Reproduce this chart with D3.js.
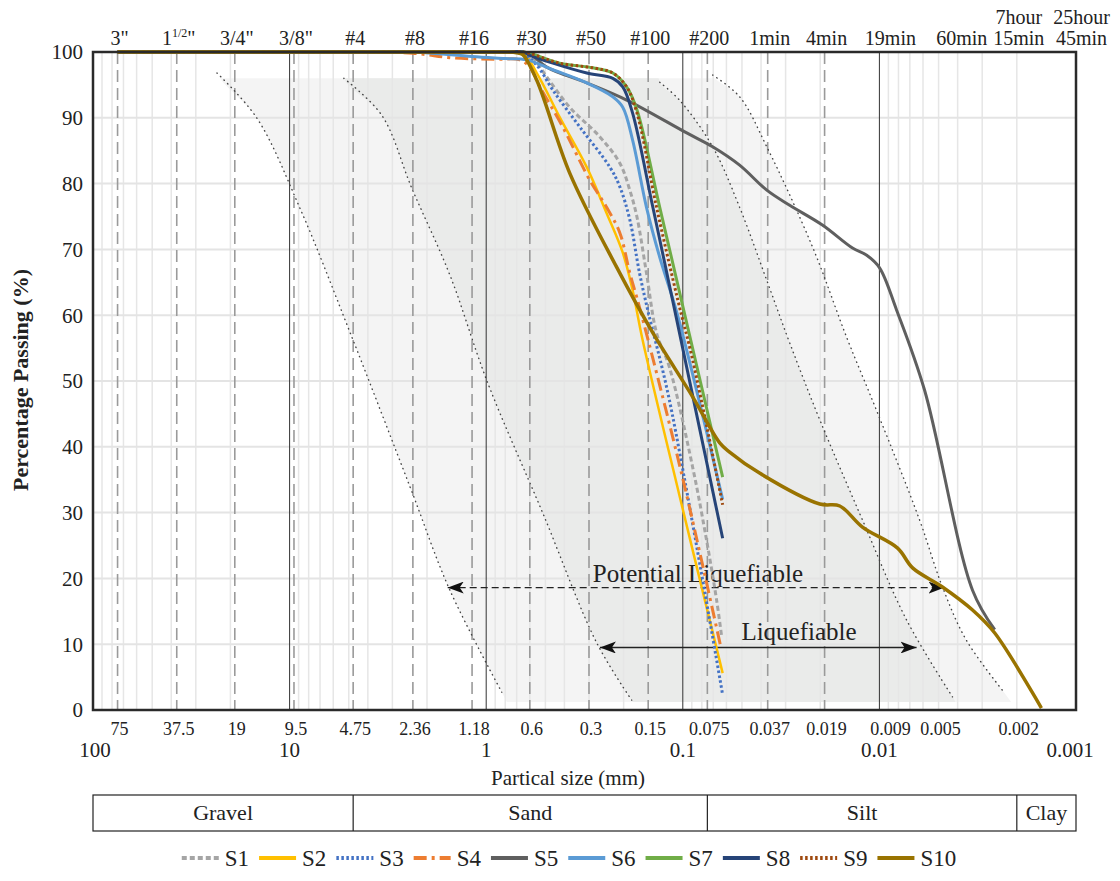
<!DOCTYPE html>
<html>
<head>
<meta charset="utf-8">
<script src="https://cdn.jsdelivr.net/npm/d3@7"></script>
<style>
  body { margin: 0; background: #fff; }
  svg { font-family: "Liberation Serif", "Times New Roman", serif; }
</style>
</head>
<body>
<svg id="chart" width="1120" height="881"></svg>
<script>
// ---- data ----
const sieveSizes = [75, 37.5, 19, 9.5, 4.75, 2.36, 1.18, 0.6, 0.3, 0.15, 0.075, 0.037, 0.019];
const sizeLabels = ["75", "37.5", "19", "9.5", "4.75", "2.36", "1.18", "0.6", "0.3", "0.15", "0.075", "0.037", "0.019", "0.009", "0.005", "0.002"];
const sizeLabelValues = [75, 37.5, 19, 9.5, 4.75, 2.36, 1.18, 0.6, 0.3, 0.15, 0.075, 0.037, 0.019, 0.009, 0.005, 0.002];
const decadeValues = [100, 10, 1, 0.1, 0.01, 0.001];
const decadeLabels = ["100", "10", "1", "0.1", "0.01", "0.001"];
const topLabels = ['3"', '1 1/2"', '3/4"', '3/8"', "#4", "#8", "#16", "#30", "#50", "#100", "#200",
  "1min", "4min", "19min", "60min", "7hour\n15min", "25hour\n45min"];
const topLabelSizes = [75, 37.5, 19, 9.5, 4.75, 2.36, 1.18, 0.6, 0.3, 0.15, 0.075,
  0.037, 0.019, 0.009, 0.0039, 0.002, 0.00096];
const yTicks = [0, 10, 20, 30, 40, 50, 60, 70, 80, 90, 100];

const classNames = ["Gravel", "Sand", "Silt", "Clay"];
const classBounds = [100, 4.75, 0.075, 0.002, 0.001];

// boundary curves of the liquefiable zones [size mm, % passing]
const outerLeft = [[23.4, 96.8], [14.7, 90.0], [8.87, 76.3], [4.93, 57.4], [2.44, 33.9], [1.53, 18.2], [0.833, 2.7]];
const innerLeft = [[5.30, 96.0], [3.40, 90.4], [2.39, 79.3], [1.53, 66.1], [0.982, 49.7], [0.515, 29.9], [0.274, 10.2], [0.182, 1.5]];
const innerRight = [[0.131, 95.4], [0.104, 92.7], [0.0705, 85.6], [0.0514, 76.4], [0.0374, 65.3], [0.0286, 55.8],
  [0.0201, 44.1], [0.0122, 28.9], [0.00728, 13.7], [0.00425, 2.0]];
const outerRight = [[0.0705, 96.5], [0.0514, 93.2], [0.0374, 85.6], [0.0219, 70.4], [0.0147, 56.7], [0.0102, 45.1],
  [0.00625, 28.9], [0.00478, 18.7], [0.00361, 10.6], [0.00231, 2.6]];
const zoneTop = 96, zoneBottom = 1.2;

const potentialRange = [1.57, 0.00466], potentialLevel = 18.6;
const liquefiableRange = [0.264, 0.00647], liquefiableLevel = 9.5;

// gradation curves [size mm, % passing]
const S1 = [[75, 100], [19, 100], [4.75, 100], [1.18, 100], [0.8, 100], [0.65, 99.8], [0.579, 99.1], [0.492, 96.2], [0.376, 91.6],
  [0.264, 87.1], [0.209, 83.1], [0.186, 79.0], [0.171, 74.9], [0.153, 66.4], [0.136, 57.3], [0.117, 52.1], [0.0891, 36.9],
  [0.0757, 25.8], [0.0673, 16.7], [0.0634, 11.1]];
const S2 = [[75, 100], [19, 100], [4.75, 100], [1.18, 100], [0.8, 100], [0.65, 99.8], [0.553, 96.8], [0.423, 90.1], [0.308, 82.5],
  [0.244, 75.5], [0.202, 69.5], [0.180, 63.8], [0.160, 56.2], [0.104, 32.6], [0.0627, 5.6]];
const S3 = [[75, 100], [19, 100], [4.75, 100], [1.18, 100], [0.8, 100], [0.65, 99.7], [0.553, 98.0], [0.458, 94.2], [0.334, 88.6],
  [0.235, 82.5], [0.209, 79.5], [0.186, 74.5], [0.166, 66.4], [0.150, 60.5], [0.117, 47.1], [0.0627, 2.3]];
const S4 = [[75, 100], [19, 100], [4.75, 100], [2.36, 99.8], [1.48, 99.1], [0.9, 98.9], [0.675, 98.8], [0.6, 97.7], [0.533, 94.7],
  [0.408, 88.6], [0.297, 80.5], [0.244, 76.4], [0.209, 72.5], [0.186, 66.4], [0.166, 61.2], [0.101, 35.7], [0.0641, 9.6]];
const S5 = [[75, 100], [19, 100], [4.75, 100], [1.18, 100], [0.8, 100], [0.65, 100], [0.6, 99.8], [0.492, 97.7], [0.308, 95.3],
  [0.193, 92.7], [0.0955, 87.7], [0.0705, 85.6], [0.0514, 82.8], [0.0374, 79.0], [0.0286, 76.7], [0.0195, 73.7], [0.0137, 70.2],
  [0.0116, 69.1], [0.00998, 67.2], [0.00818, 60.8], [0.00589, 48.6], [0.00336, 18.2], [0.00259, 12.2]];
const S6 = [[75, 100], [19, 100], [4.75, 100], [2.36, 100], [1.18, 99.3], [0.8, 99.0], [0.622, 98.8], [0.458, 97.3], [0.308, 95.3],
  [0.227, 93.2], [0.202, 91.6], [0.180, 86.6], [0.153, 76.4], [0.131, 68.8], [0.107, 60.3], [0.0627, 32.0]];
const S7 = [[75, 100], [19, 100], [4.75, 100], [1.18, 100], [0.8, 100], [0.65, 100], [0.6, 99.8], [0.423, 98.3], [0.287, 97.6],
  [0.227, 96.8], [0.193, 94.7], [0.171, 91.2], [0.131, 76.4], [0.0955, 58.8], [0.0627, 35.4]];
const S8 = [[75, 100], [19, 100], [4.75, 100], [1.18, 100], [0.8, 100], [0.65, 100], [0.6, 99.5], [0.458, 98.3], [0.308, 96.8],
  [0.227, 96.0], [0.202, 94.7], [0.180, 90.7], [0.142, 76.4], [0.112, 61.9], [0.0627, 26.1]];
const S9 = [[75, 100], [19, 100], [4.75, 100], [1.18, 100], [0.8, 100], [0.65, 100], [0.6, 99.8], [0.423, 98.3], [0.287, 97.6],
  [0.227, 96.8], [0.193, 94.7], [0.171, 90.7], [0.136, 76.4], [0.106, 62.3], [0.0891, 53.2], [0.0627, 31.2]];
const S10 = [[75, 100], [19, 100], [4.75, 100], [1.18, 100], [0.8, 100], [0.7, 99.9], [0.652, 99.6], [0.553, 95.7], [0.376, 81.6],
  [0.217, 67.3], [0.142, 57.3], [0.0891, 47.6], [0.0649, 40.6], [0.0578, 39.2], [0.0407, 36.0], [0.0201, 31.3], [0.0159, 31.0],
  [0.0122, 27.8], [0.00808, 24.6], [0.00678, 21.6], [0.00478, 18.7], [0.00336, 15.2], [0.00259, 11.7], [0.0015, 0.3]];

const seriesNames = ["S1", "S2", "S3", "S4", "S5", "S6", "S7", "S8", "S9", "S10"];
const seriesData = [S1, S2, S3, S4, S5, S6, S7, S8, S9, S10];
const seriesColors = ["#a5a5a5", "#ffc000", "#4472c4", "#ed7d31", "#5f5f5f", "#5b9bd5", "#70ad47", "#264478", "#9e480e", "#997300"];
const seriesDash = ["5,3", null, "2.5,2.5", "13,5,3,5", null, null, null, null, "2.5,2.5", null];
const seriesWidth = [3, 2.5, 3, 3, 3, 3, 3, 3, 3, 3.5];

// ---- layout ----
const svg = d3.select("#chart");
const plotL = 93, plotR = 1076, plotT = 52, plotB = 710;

const x = d3.scaleLog().domain([100, 0.001]).range([plotL, plotR]);
const y = d3.scaleLinear().domain([0, 100]).range([plotB, plotT]);

// ---- zone fills ----
svg.append("clipPath").attr("id", "zoneClip")
  .append("rect")
  .attr("x", plotL).attr("width", plotR - plotL)
  .attr("y", y(zoneTop)).attr("height", y(zoneBottom) - y(zoneTop));

function extendTo(pts, level) {
  // carry the last segment on down to the bottom of the zone
  const a = pts[pts.length - 2], b = pts[pts.length - 1];
  const ax = x(a[0]), ay = y(a[1]), bx = x(b[0]), by = y(b[1]);
  const ty = y(level);
  const tx = bx + (bx - ax) * (ty - by) / (by - ay);
  return [tx, ty];
}

function zonePath(l, r) {
  const lp = l.map(d => [x(d[0]), y(d[1])]);
  const rp = r.map(d => [x(d[0]), y(d[1])]);
  lp.unshift([lp[0][0], y(100)]);
  lp.push(extendTo(l, zoneBottom - 1));
  rp.unshift([rp[0][0], y(100)]);
  rp.push(extendTo(r, zoneBottom - 1));
  const pl = d3.line().curve(d3.curveCatmullRom);
  const a = pl(lp);
  const b = pl(rp.slice().reverse());
  return a + "L" + b.slice(1) + "Z";
}

const zones = svg.append("g").attr("clip-path", "url(#zoneClip)");
zones.append("path").attr("d", zonePath(outerLeft, outerRight)).attr("fill", "#f4f4f4");
zones.append("path").attr("d", zonePath(innerLeft, innerRight)).attr("fill", "#eaebea");

// ---- grid ----
const minor = [];
for (let e = -3; e < 2; e++) {
  for (let m = 2; m <= 9; m++) minor.push(m * Math.pow(10, e));
}
svg.append("g").selectAll("line").data(minor).join("line")
  .attr("x1", d => x(d)).attr("x2", d => x(d))
  .attr("y1", plotT).attr("y2", plotB)
  .attr("stroke", "#e6e6e6").attr("stroke-width", 1.5);

svg.append("g").selectAll("line").data(yTicks.slice(1, -1)).join("line")
  .attr("x1", plotL).attr("x2", plotR)
  .attr("y1", d => y(d)).attr("y2", d => y(d))
  .attr("stroke", "#e4e4e4").attr("stroke-width", 2);

svg.append("g").selectAll("line").data(decadeValues.slice(1, -1)).join("line")
  .attr("x1", d => x(d)).attr("x2", d => x(d))
  .attr("y1", plotT).attr("y2", plotB)
  .attr("stroke", "#333").attr("stroke-width", 1);

svg.append("g").selectAll("line").data(sieveSizes).join("line")
  .attr("x1", d => x(d)).attr("x2", d => x(d))
  .attr("y1", plotT).attr("y2", plotB)
  .attr("stroke", "#9a9a9a").attr("stroke-width", 1.6)
  .attr("stroke-dasharray", "12,6");

// ---- zone boundary dotted lines ----
const dotted = d3.line().x(d => x(d[0])).y(d => y(d[1])).curve(d3.curveCatmullRom);
svg.append("g").selectAll("path").data([outerLeft, innerLeft, innerRight, outerRight]).join("path")
  .attr("d", dotted)
  .attr("fill", "none").attr("stroke", "#444").attr("stroke-width", 1.4)
  .attr("stroke-linecap", "round").attr("stroke-dasharray", "0.5,4.5");

// ---- arrows ----
const defs = svg.append("defs");
["arrowStart", "arrowEnd"].forEach((id, i) => {
  defs.append("marker").attr("id", id)
    .attr("markerUnits", "userSpaceOnUse")
    .attr("viewBox", "0 0 16 12").attr("refX", i === 0 ? 0 : 16).attr("refY", 6)
    .attr("markerWidth", 16).attr("markerHeight", 12).attr("orient", "auto")
    .append("path")
    .attr("d", i === 0 ? "M0,6L16,0L12,6L16,12Z" : "M16,6L0,0L4,6L0,12Z")
    .attr("fill", "#111");
});

svg.append("line")
  .attr("x1", x(potentialRange[0])).attr("x2", x(potentialRange[1]))
  .attr("y1", y(potentialLevel)).attr("y2", y(potentialLevel))
  .attr("stroke", "#222").attr("stroke-width", 1.4).attr("stroke-dasharray", "7,4")
  .attr("marker-start", "url(#arrowStart)").attr("marker-end", "url(#arrowEnd)");
svg.append("line")
  .attr("x1", x(liquefiableRange[0])).attr("x2", x(liquefiableRange[1]))
  .attr("y1", y(liquefiableLevel)).attr("y2", y(liquefiableLevel))
  .attr("stroke", "#222").attr("stroke-width", 1.4)
  .attr("marker-start", "url(#arrowStart)").attr("marker-end", "url(#arrowEnd)");

svg.append("text").attr("x", 698).attr("y", y(potentialLevel) - 6)
  .attr("text-anchor", "middle").attr("font-size", 25).attr("fill", "#222")
  .text("Potential Liquefiable");
svg.append("text").attr("x", 799).attr("y", y(liquefiableLevel) - 7)
  .attr("text-anchor", "middle").attr("font-size", 25).attr("fill", "#222")
  .text("Liquefiable");

// ---- gradation curves ----
const smooth = d3.line().x(d => x(d[0])).y(d => y(d[1])).curve(d3.curveCatmullRom.alpha(0.5));
svg.append("g").selectAll("path").data(seriesData).join("path")
  .attr("d", smooth)
  .attr("fill", "none")
  .attr("stroke", (d, i) => seriesColors[i])
  .attr("stroke-width", (d, i) => seriesWidth[i])
  .attr("stroke-dasharray", (d, i) => seriesDash[i]);

// ---- frame ----
svg.append("rect")
  .attr("x", plotL).attr("y", plotT).attr("width", plotR - plotL).attr("height", plotB - plotT)
  .attr("fill", "none").attr("stroke", "#2a2a2a").attr("stroke-width", 2.5);

// ---- axis labels ----
svg.append("g").selectAll("text").data(yTicks).join("text")
  .attr("x", 83).attr("y", d => y(d)).attr("dy", "0.35em")
  .attr("text-anchor", "end").attr("font-size", 21).attr("fill", "#222")
  .text(d => d);

svg.append("g").selectAll("text").data(sizeLabelValues).join("text")
  .attr("x", d => x(d) + 2).attr("y", 735)
  .attr("text-anchor", "middle").attr("font-size", 18).attr("fill", "#222")
  .text((d, i) => sizeLabels[i]);

svg.append("g").selectAll("text").data(decadeValues).join("text")
  .attr("x", (d, i) => x(d) + (i === 0 ? 2 : i === decadeValues.length - 1 ? -6 : 0)).attr("y", 757)
  .attr("text-anchor", "middle").attr("font-size", 21).attr("fill", "#222")
  .text((d, i) => decadeLabels[i]);

const topG = svg.append("g").attr("font-size", 20).attr("fill", "#222");
topLabels.forEach((lab, i) => {
  const cx = x(topLabelSizes[i]) + 2;
  const t = topG.append("text").attr("x", cx).attr("y", 45).attr("text-anchor", "middle");
  if (lab.includes("\n")) {
    const parts = lab.split("\n");
    t.attr("y", 24);
    t.append("tspan").attr("x", cx).text(parts[0]);
    t.append("tspan").attr("x", cx).attr("dy", 21).text(parts[1]);
  } else if (lab.includes(" ")) {
    const [whole, rest] = lab.split(" ");
    t.append("tspan").text(whole);
    t.append("tspan").attr("font-size", 12).attr("dy", -8).text(rest.replace('"', ""));
    t.append("tspan").attr("dy", 8).text('"');
  } else {
    t.text(lab);
  }
});

svg.append("text")
  .attr("transform", "translate(28,380) rotate(-90)")
  .attr("text-anchor", "middle").attr("font-size", 22).attr("font-weight", "bold").attr("fill", "#222")
  .text("Percentage Passing (%)");

svg.append("text").attr("x", 568).attr("y", 785)
  .attr("text-anchor", "middle").attr("font-size", 21).attr("fill", "#222")
  .text("Partical size (mm)");

// ---- soil classification bar ----
const bar = svg.append("g");
bar.append("rect").attr("x", plotL).attr("y", 795).attr("width", plotR - plotL).attr("height", 36)
  .attr("fill", "none").attr("stroke", "#222").attr("stroke-width", 1.2);
bar.selectAll("line").data(classBounds.slice(1, -1)).join("line")
  .attr("x1", d => x(d)).attr("x2", d => x(d)).attr("y1", 795).attr("y2", 831)
  .attr("stroke", "#222").attr("stroke-width", 1.2);
bar.selectAll("text").data(classNames).join("text")
  .attr("x", (d, i) => (x(classBounds[i]) + x(classBounds[i + 1])) / 2)
  .attr("y", 820).attr("text-anchor", "middle").attr("font-size", 22).attr("fill", "#222")
  .text(d => d);

// ---- legend ----
const legend = svg.append("g").attr("font-size", 23).attr("fill", "#222");
let lx = 0;
seriesNames.forEach((name, i) => {
  const g = legend.append("g").attr("transform", `translate(${lx},0)`);
  g.append("line").attr("x1", 0).attr("x2", 37).attr("y1", 0).attr("y2", 0)
    .attr("stroke", seriesColors[i]).attr("stroke-width", 4)
    .attr("stroke-dasharray", seriesDash[i]);
  const t = g.append("text").attr("x", 43).attr("y", 0).attr("dy", "0.35em").text(name);
  lx += 43 + t.node().getComputedTextLength() + 10;
});
legend.attr("transform", `translate(${569 - (lx - 10) / 2},858)`);
</script>
</body>
</html>
